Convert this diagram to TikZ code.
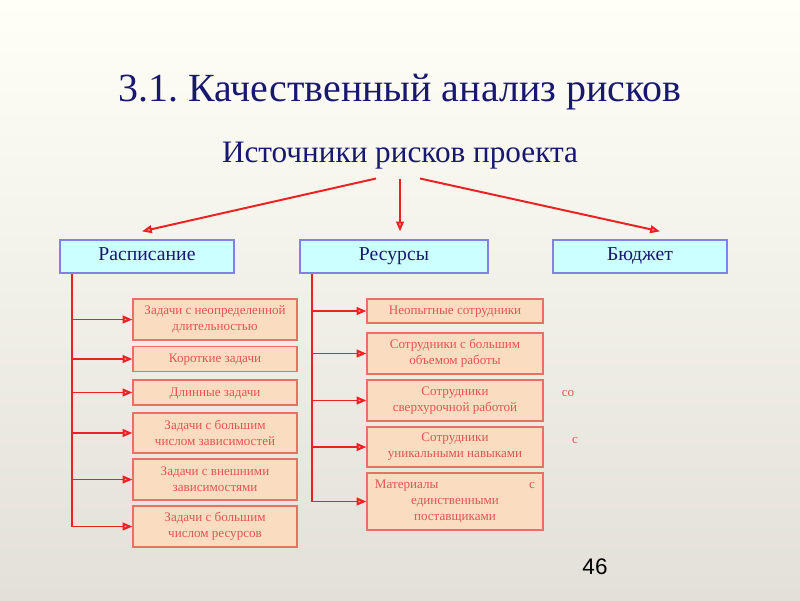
\documentclass[tikz,border=0pt]{standalone}
\usepackage{fontspec}
\setmainfont{Liberation Serif}
\newfontfamily\numfont{Liberation Sans}
\usetikzlibrary{arrows.meta, positioning, calc}
\frenchspacing

\definecolor{navy}{RGB}{24,24,112}
\definecolor{groupfill}{RGB}{204,255,255}
\definecolor{groupline}{RGB}{130,130,230}
\definecolor{itemfill}{RGB}{250,220,192}
\definecolor{itemline}{RGB}{232,112,100}
\definecolor{itemtext}{RGB}{228,84,84}
\definecolor{linkred}{RGB}{236,34,34}

\begin{document}
\begin{tikzpicture}[
    x=0.025cm, y=-0.025cm,
    group/.style={draw=groupline, fill=groupfill, line width=0.9pt, minimum height=0.825cm, inner sep=0pt, text=navy, font=\fontsize{14}{16}\selectfont, text height=1.4ex, text depth=0.2ex},
    item/.style={draw=itemline, fill=itemfill, line width=0.8pt, minimum height=#1, inner sep=0pt, align=center, text=itemtext, font=\fontsize{9.3}{11.3}\selectfont},
    item/.default=0.625cm,
    oneline/.style={text height=1.4ex, text depth=0.3ex},
    schedin/.style={item=#1, minimum width=4.1cm},
    schedin/.default=1.025cm,
    resin/.style={item=#1, minimum width=4.4cm},
    resin/.default=1.025cm,
    tail/.style={text=itemtext, font=\fontsize{9.3}{11.3}\selectfont, inner sep=0pt},
    link/.style={draw=linkred, line width=1.4pt},
    arr/.style={link, -{Triangle[length=7pt, width=5.5pt, fill=red!35]}}
  ]
    % background
    \shade[top color={rgb,255:red,255;green,255;blue,248}, bottom color={rgb,255:red,226;green,224;blue,216}] (0,0) rectangle (800,600);

    \node[text=navy, font=\fontsize{28.4}{32}\selectfont] (title) at (400,92) {3.1. Качественный анализ рисков};
    \node[text=navy, font=\fontsize{22.2}{26}\selectfont] (src) at (400,156) {Источники рисков проекта};
    \node[font=\numfont\fontsize{16}{18}\selectfont] (page) at (595,567) {46};

    % top level
    \node[group, minimum width=4.35cm] (sched) at (147,256.5) {Расписание};
    \node[group, minimum width=4.7cm] (res) at (394,256.5) {Ресурсы};
    \node[group, minimum width=4.35cm] (budget) at (640,256.5) {Бюджет};

    \coordinate (srcL) at ($(src.south)+(-24,4)$);
    \coordinate (srcM) at ($(src.south)+(0,4)$);
    \coordinate (srcR) at ($(src.south)+(20,4)$);
    \draw[arr] (srcL) -- ($(sched.north)+(-5,-8)$);
    \draw[arr] (srcM) -- ($(res.north)+(6,-8)$);
    \draw[arr] (srcR) -- ($(budget.north)+(20,-8)$);

    % schedule
    \node[schedin] (s1) at (215,319.5) {Задачи с неопределенной\\длительностью};
    \node[schedin=0.625cm, oneline] (s2) at (215,359) {Короткие задачи};
    \node[schedin=0.625cm, oneline] (s3) at (215,392.5) {Длинные задачи};
    \node[schedin=1cm] (s4) at (215,433) {Задачи с большим\\числом зависимостей};
    \node[schedin] (s5) at (215,479.5) {Задачи с внешними\\зависимостями};
    \node[schedin] (s6) at (215,526.5) {Задачи с большим\\числом ресурсов};

    % resources
    \node[resin=0.6cm, oneline] (r1) at (455,311) {Неопытные сотрудники};
    \node[resin] (r2) at (455,353.5) {Сотрудники с большим\\объемом работы};
    \node[resin] (r3) at (455,400.5) {Сотрудники\\сверхурочной работой};
    \node[resin=1cm] (r4) at (455,447) {Сотрудники\\уникальными навыками};
    \node[resin=1.425cm] (r5) at (455,501.5) {\makebox[4cm][s]{Материалы\hfill с}\\единственными\\поставщиками};
    \node[tail] (r3tail) at (568,393) {со};
    \node[tail] (r4tail) at (575,440) {с};

    \coordinate (strunk) at ($(sched.south west)+(13,0)$);
    \coordinate (rtrunk) at ($(res.south west)+(13,0)$);
    \draw[link] (strunk) -- (strunk |- s6);
    \draw[link] (rtrunk) -- (rtrunk |- r5);
    \foreach \n in {s1,s2,s3,s4,s5,s6}
      \draw[arr] (strunk |- \n) -- (\n.west);
    \foreach \n in {r1,r2,r3,r4,r5}
      \draw[arr] (rtrunk |- \n) -- (\n.west);
  \end{tikzpicture}
\end{document}
